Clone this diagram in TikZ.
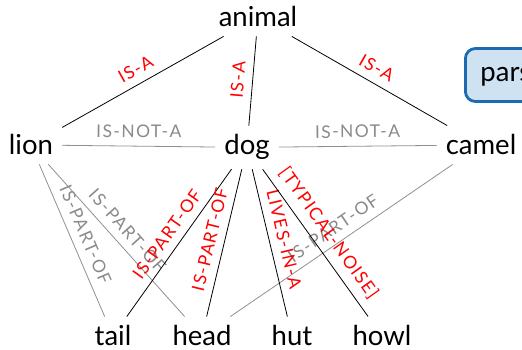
\documentclass[tikz,border=0pt]{standalone}
\usepackage{fontspec}
\setmainfont{Lato}
\newfontfamily\relfamily[LetterSpace=8]{Lato}
\definecolor{relgray}{HTML}{8A8A8A}
\definecolor{linegray}{HTML}{909090}
\definecolor{boxblue}{HTML}{1C6BB0}
\definecolor{boxfill}{HTML}{CFE2F2}
\newcommand{\relfont}{\relfamily\fontsize{17.5}{20}\selectfont}
\newcommand{\wordfont}{\fontsize{27.5}{32}\selectfont}
\tikzset{
  word/.style={font=\wordfont, inner sep=9pt, anchor=base},
  rel/.style={font=\relfont, sloped, above, midway, inner sep=8pt},
  relred/.style={rel, text=red},
  relgrey/.style={rel, text=relgray},
  strong/.style={draw=black, line width=0.8pt},
  weak/.style={draw=linegray, line width=0.8pt},
  panel/.style={draw=boxblue, fill=boxfill, line width=2.8pt, rounded corners=10pt,
    anchor=west, minimum height=53pt, inner xsep=15pt, text height=19pt, text depth=5pt,
    font=\wordfont}
}
\begin{document}
\begin{tikzpicture}[x=1pt, y=1pt]
  \useasboundingbox (0,0) rectangle (522,350);
  % concepts
  \node[word] (animal) at (258,323) {animal};
  \node[word] (lion)   at (31,195)  {lion};
  \node[word] (dog)    at (247,195) {dog};
  \node[word] (camel)  at (481,195) {camel};
  \node[word] (tail)   at (113,4)   {tail};
  \node[word] (head)   at (202,4)   {head};
  \node[word] (hut)    at (292,4)   {hut};
  \node[word] (howl)   at (382,4)   {howl};
  % side panel
  \node[panel] (parse) at (464,275) {parsing};
  % taxonomy
  \draw[strong] (animal) -- node[relred] {IS-A} (lion);
  \draw[strong] (animal) -- node[relred] {IS-A} (dog);
  \draw[strong] (animal) -- node[relred] {IS-A} (camel);
  \draw[weak] (lion) -- node[relgrey] {IS-NOT-A} (dog);
  \draw[weak] (dog) -- node[relgrey] {IS-NOT-A} (camel);
  % parts and other relations
  \draw[weak] (lion) -- node[relgrey] {IS-PART-OF} (tail);
  \draw[weak] (lion) -- node[relgrey] {IS-PART-OF} (head);
  \draw[weak] (camel) -- node[relgrey] {IS-PART-OF} (head);
  \draw[strong] (dog) -- node[relred] {IS-PART-OF} (tail);
  \draw[strong] (dog) -- node[relred] {IS-PART-OF} (head);
  \draw[strong] (dog) -- node[relred] {LIVES-IN-A} (hut);
  \draw[strong] (dog) -- node[relred] {[TYPICAL-NOISE]} (howl);
\end{tikzpicture}
\end{document}
